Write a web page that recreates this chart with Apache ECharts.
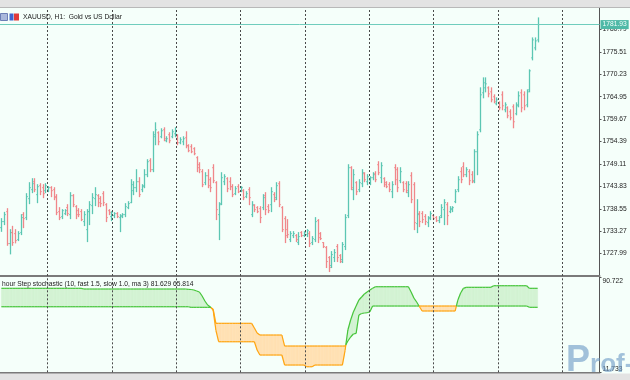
<!DOCTYPE html>
<html><head><meta charset="utf-8">
<script src="https://cdn.jsdelivr.net/npm/echarts@6/dist/echarts.min.js"></script>
<style>html,body{margin:0;padding:0;background:#f5fffa;}#c{width:630px;height:380px;}</style>
</head><body><div id="c"></div>
<script>
const opens = [1734.10,1735.52,1737.87,1730.34,1732.93,1732.69,1731.28,1732.93,1737.16,1736.46,1740.93,1743.04,1744.92,1741.87,1743.98,1743.51,1742.81,1743.04,1743.51,1743.04,1741.40,1737.87,1736.69,1737.40,1738.81,1737.16,1741.63,1739.04,1738.10,1737.87,1735.52,1733.63,1737.87,1739.28,1740.93,1741.63,1740.93,1742.10,1739.51,1738.10,1736.69,1736.93,1737.40,1736.46,1736.69,1737.16,1738.81,1739.98,1742.81,1743.51,1744.92,1743.04,1743.98,1746.57,1749.86,1747.75,1755.51,1756.45,1755.51,1757.15,1754.57,1755.98,1755.51,1756.21,1755.74,1754.10,1754.33,1755.27,1753.39,1753.16,1752.69,1750.57,1748.92,1747.28,1744.69,1746.33,1745.39,1748.22,1744.69,1737.16,1739.75,1744.92,1745.63,1744.92,1743.75,1742.10,1743.75,1742.81,1742.81,1741.40,1743.04,1737.16,1739.28,1738.81,1738.57,1738.81,1741.63,1739.04,1739.51,1741.87,1741.16,1744.45,1738.81,1736.22,1733.63,1731.28,1732.22,1732.22,1730.58,1732.93,1732.22,1732.46,1732.69,1730.58,1731.28,1735.75,1732.69,1730.58,1729.40,1727.05,1725.17,1727.05,1729.64,1727.52,1726.58,1729.64,1736.93,1748.22,1743.04,1744.69,1743.04,1744.45,1746.80,1744.92,1745.16,1745.86,1746.80,1748.92,1745.86,1745.63,1744.69,1744.22,1742.57,1748.22,1747.75,1745.16,1744.69,1744.45,1742.34,1746.33,1744.22,1735.05,1737.40,1737.40,1736.69,1735.28,1736.46,1736.93,1736.46,1735.75,1736.93,1738.34,1739.51,1737.87,1738.34,1740.22,1743.04,1747.28,1748.45,1746.57,1747.28,1746.57,1745.16,1751.98,1757.15,1765.86,1767.03,1767.03,1766.09,1764.92,1763.27,1763.50,1765.38,1761.86,1762.33,1761.39,1762.56,1760.92,1763.03,1765.86,1765.38,1763.03,1766.56,1774.09,1776.44,1778.32];
const highs = [1736.22,1737.70,1738.57,1733.63,1734.41,1733.63,1733.16,1737.16,1737.63,1742.10,1744.69,1745.63,1745.63,1744.22,1744.45,1744.22,1744.45,1743.75,1743.75,1743.51,1741.87,1738.81,1738.34,1738.34,1739.51,1742.34,1741.87,1739.28,1738.57,1738.34,1737.87,1738.34,1740.22,1742.10,1743.51,1741.87,1741.40,1742.57,1739.75,1738.34,1737.87,1737.63,1737.63,1737.16,1737.40,1739.75,1740.22,1745.39,1744.92,1747.75,1745.86,1744.22,1747.75,1750.10,1750.33,1756.68,1758.80,1756.68,1757.39,1757.62,1755.51,1756.45,1757.15,1757.62,1755.98,1755.27,1755.51,1756.68,1753.63,1753.63,1752.92,1750.80,1749.39,1747.75,1747.04,1747.75,1745.86,1748.92,1744.92,1739.98,1747.04,1746.57,1745.86,1745.86,1744.22,1743.75,1744.22,1743.75,1743.04,1742.57,1743.51,1740.22,1739.51,1739.04,1739.04,1741.87,1742.34,1739.51,1743.51,1742.34,1744.69,1744.92,1739.04,1736.69,1735.99,1733.16,1733.16,1732.46,1732.93,1733.16,1733.16,1733.63,1733.16,1731.99,1736.46,1735.99,1732.93,1730.58,1729.64,1727.28,1728.46,1728.93,1730.11,1727.75,1730.58,1737.16,1748.92,1748.45,1747.75,1744.92,1745.39,1747.75,1747.04,1746.57,1746.10,1747.04,1747.28,1749.63,1749.39,1745.86,1744.92,1744.69,1744.92,1748.92,1748.22,1748.22,1744.92,1744.92,1744.92,1747.04,1744.69,1740.69,1737.87,1737.87,1737.16,1736.69,1737.87,1737.16,1736.69,1736.69,1739.51,1740.69,1739.98,1739.04,1739.04,1743.04,1746.10,1748.22,1749.39,1748.22,1747.75,1747.28,1752.45,1756.68,1767.03,1769.38,1769.38,1767.27,1767.03,1765.38,1764.68,1763.74,1766.09,1763.50,1762.56,1761.86,1763.03,1763.50,1766.09,1766.56,1766.09,1766.56,1771.27,1778.79,1778.79,1783.50];
const lows = [1733.23,1734.81,1729.94,1727.92,1729.94,1730.51,1731.05,1732.46,1734.10,1735.99,1739.75,1742.34,1742.57,1739.98,1741.87,1741.16,1742.34,1742.57,1741.40,1740.69,1737.16,1735.99,1736.22,1737.16,1736.93,1736.22,1739.04,1736.22,1736.69,1735.75,1734.58,1730.81,1734.81,1737.40,1739.28,1739.04,1739.04,1739.28,1735.52,1737.16,1735.75,1736.46,1736.46,1733.16,1736.46,1736.69,1738.57,1739.98,1741.87,1742.57,1741.40,1742.57,1743.51,1746.10,1747.28,1747.28,1753.63,1753.63,1755.27,1754.57,1754.33,1754.10,1755.27,1755.51,1753.63,1753.86,1753.63,1752.92,1751.98,1751.75,1751.27,1747.28,1747.04,1743.75,1744.22,1743.51,1742.57,1744.69,1735.99,1731.28,1739.51,1744.22,1742.57,1743.04,1741.40,1741.87,1742.34,1742.57,1740.69,1741.16,1739.51,1736.69,1737.87,1737.63,1735.28,1738.34,1737.16,1737.63,1737.87,1740.22,1740.69,1739.04,1733.16,1730.58,1731.75,1730.81,1731.75,1730.81,1730.11,1731.99,1731.99,1731.99,1729.64,1730.11,1730.81,1730.58,1731.28,1729.40,1724.70,1723.76,1724.70,1726.11,1726.11,1725.87,1725.87,1728.93,1736.46,1743.04,1740.69,1741.87,1742.57,1743.75,1744.92,1744.22,1744.22,1745.39,1744.92,1746.57,1744.69,1743.75,1743.51,1742.57,1741.16,1744.22,1742.57,1744.69,1742.57,1742.34,1741.40,1739.98,1733.63,1732.93,1734.34,1735.28,1734.81,1734.34,1735.99,1735.99,1735.52,1735.28,1736.46,1734.81,1734.81,1737.63,1737.87,1739.98,1742.57,1744.69,1746.10,1746.10,1744.22,1744.69,1744.69,1746.57,1756.68,1764.68,1766.09,1764.92,1763.74,1763.50,1763.03,1761.86,1761.86,1761.39,1759.98,1759.51,1757.62,1760.68,1762.56,1761.39,1761.86,1762.56,1766.09,1773.62,1775.97,1777.85];
const closes = [1735.52,1737.16,1730.34,1732.93,1730.58,1731.05,1732.69,1736.46,1736.22,1741.40,1743.51,1744.45,1743.04,1743.75,1742.57,1742.10,1743.98,1743.51,1742.81,1741.16,1737.63,1736.46,1738.10,1738.10,1737.40,1741.63,1739.51,1737.16,1737.16,1735.99,1737.16,1737.87,1739.51,1741.16,1741.87,1739.98,1739.75,1739.98,1736.46,1737.63,1737.63,1737.40,1736.69,1736.93,1737.16,1739.04,1739.75,1744.22,1743.51,1744.92,1741.87,1743.75,1746.57,1749.63,1747.75,1755.98,1757.15,1754.33,1756.92,1755.04,1755.04,1754.57,1756.68,1756.92,1754.10,1754.80,1755.04,1753.39,1752.22,1751.98,1751.51,1748.22,1747.75,1744.22,1746.33,1743.98,1743.51,1745.16,1738.34,1739.51,1745.86,1746.10,1743.28,1743.75,1741.87,1743.28,1742.57,1743.51,1741.16,1742.10,1741.16,1739.51,1738.34,1737.87,1736.46,1741.16,1738.34,1738.10,1742.57,1740.69,1743.98,1739.51,1733.63,1732.22,1732.46,1732.69,1732.69,1731.28,1731.99,1732.22,1732.93,1733.40,1730.34,1731.52,1735.52,1731.75,1731.52,1729.64,1726.11,1724.70,1727.75,1728.22,1727.05,1726.11,1730.11,1736.46,1748.22,1743.51,1746.57,1742.57,1744.69,1747.04,1745.39,1746.10,1745.86,1746.57,1745.39,1747.04,1748.69,1744.22,1743.75,1743.04,1744.22,1745.39,1743.51,1747.28,1743.04,1742.81,1744.22,1740.69,1735.28,1737.16,1735.52,1735.99,1735.52,1736.22,1737.40,1736.22,1735.75,1736.46,1738.81,1739.98,1736.93,1738.57,1738.81,1742.57,1745.39,1745.39,1746.57,1747.75,1745.16,1744.92,1751.98,1755.98,1765.38,1768.21,1767.97,1765.62,1764.21,1763.74,1764.21,1762.33,1762.80,1763.03,1760.45,1759.98,1759.04,1762.80,1765.15,1762.33,1762.80,1766.09,1771.03,1778.32,1778.09,1781.93];
const stochMain = [81.63,81.63,81.63,81.63,81.63,81.63,81.63,81.63,81.63,81.63,81.63,81.63,81.63,81.63,81.63,81.63,81.63,81.63,81.63,81.63,81.63,81.63,81.63,81.63,81.63,81.63,81.63,81.63,81.63,81.63,
81.05,81.05,81.05,81.05,81.05,81.05,81.05,81.05,81.05,81.05,81.05,81.05,81.05,81.05,81.05,81.05,81.05,81.05,81.05,81.05,81.05,81.05,81.05,81.05,81.05,81.05,81.05,81.05,81.05,81.05,81.05,81.05,81.05,81.05,81.05,81.05,81.05,81.05,
80.80,80.63,80.21,79.38,78.55,75.22,71.06,67.73,66.06,63.57,46.92,
37.18,37.18,37.18,37.18,37.18,37.18,37.18,37.18,37.18,37.18,37.18,37.18,37.18,37.18,
30.27,26.11,26.11,26.11,26.11,26.11,26.11,26.11,26.11,26.11,
17.79,17.79,17.79,17.79,17.79,17.79,17.79,17.79,16.37,16.37,16.37,
17.79,17.79,17.79,17.79,17.79,17.79,17.79,17.79,17.79,17.79,17.79,
30.27,46.92,55.24,61.90,66.90,71.89,74.39,76.89,78.55,80.21,81.63,
82.96,82.96,82.96,82.96,82.96,82.96,82.96,82.96,82.96,82.96,82.96,82.96,82.96,
78.55,73.56,70.23,66.48,
62.76,62.76,62.76,62.76,62.76,62.76,62.76,62.76,62.76,62.76,62.76,62.76,62.76,
71.89,77.72,81.63,
82.46,82.46,82.46,82.46,82.46,82.46,82.46,82.46,82.46,82.46,
83.79,83.79,83.79,83.79,83.79,83.79,83.79,83.79,83.79,83.79,83.79,83.79,83.79,
81.629,81.629,81.629,81.629];
const stochSignal = [66.31,66.31,66.31,66.31,66.31,66.31,66.31,66.31,66.31,66.31,66.31,66.31,66.31,66.31,66.31,66.31,66.31,66.31,66.31,66.31,66.31,66.31,66.31,66.31,66.31,66.31,66.31,66.31,66.31,66.31,66.31,66.31,66.31,66.31,66.31,66.31,66.31,66.31,66.31,66.31,66.31,66.31,66.31,66.31,66.31,66.31,66.31,66.31,66.31,66.31,66.31,66.31,66.31,66.31,66.31,66.31,66.31,66.31,66.31,66.31,66.31,66.31,66.31,66.31,66.31,66.31,66.31,66.31,66.31,
65.81,65.81,65.81,65.81,65.81,65.81,65.81,65.81,64.41,
52.49,52.49,52.49,52.49,52.49,52.49,52.49,52.49,52.49,52.49,52.49,52.49,52.49,52.49,
48.58,44.42,42.76,42.76,42.76,42.76,42.76,42.76,42.76,42.76,42.76,
33.60,33.60,33.60,33.60,33.60,33.60,33.60,33.60,33.60,33.60,33.60,33.60,33.60,33.60,33.60,33.60,33.60,33.60,33.60,33.60,33.60,33.60,33.60,
37.76,41.09,43.59,44.17,59.41,60.65,61.07,61.32,62.15,
66.90,66.90,66.90,66.90,66.90,66.90,66.90,66.90,66.90,66.90,66.90,66.90,66.90,66.90,66.90,66.90,66.90,66.90,66.90,66.90,66.90,66.90,66.90,66.90,66.90,66.90,66.90,66.90,66.90,66.90,66.90,66.90,66.90,66.90,66.90,66.90,66.90,66.90,66.90,66.90,66.90,66.90,66.90,66.90,66.90,66.90,66.90,66.90,66.90,66.90,66.90,66.90,66.90,66.90,66.90,66.90,66.90,
65.814,65.814,65.814,65.814];
const separatorBars = [16.85,40.23,63.61,86.99,110.37,133.75,157.14,180.52,203.9];
const priceAxis = {min:1722.71, max:1786.07, step:5.28};
const stochAxis = {min:11.733, max:90.722};
const symbolTitle = 'XAUUSD, H1:  Gold vs US Dollar';
const indicatorName = 'hour Step stochastic (10, fast 1.5, slow 1.0, ma 3)';

const chart = echarts.init(document.getElementById('c'), null, {renderer:'canvas', width:630, height:380});
const N = opens.length;
const FONT = '"Liberation Sans", Arial, sans-serif';
const UP = '#5cc6b3', DOWN = '#f0878a';
const X_MIN = -0.5, X_MAX = 217.5;
const candleData = opens.map((o,i)=>[i,o,closes[i],lows[i],highs[i]]);
const segData = [];
for (let i=0;i<N-1;i++) segData.push([i, stochMain[i], stochSignal[i], stochMain[i+1], stochSignal[i+1]]);

function renderBar(params, api){
  const x = api.value(0);
  const o = api.coord([x, api.value(1)]), c = api.coord([x, api.value(2)]);
  const l = api.coord([x, api.value(3)]), h = api.coord([x, api.value(4)]);
  const color = api.value(2) >= api.value(1) ? UP : DOWN;
  const px = Math.round(h[0]) + 0.5;
  const st = {stroke: color, lineWidth: 1.3};
  return {type:'group', children:[
    {type:'line', shape:{x1:px, y1:h[1]-0.5, x2:px, y2:l[1]+0.5}, style:st},
    {type:'line', shape:{x1:px-1.3, y1:o[1], x2:px, y2:o[1]}, style:{stroke:color, lineWidth:1}},
    {type:'line', shape:{x1:px, y1:c[1], x2:px+1.3, y2:c[1]}, style:{stroke:color, lineWidth:1}}
  ]};
}
const G_FILL='#d3f3d3', O_FILL='#ffe1b3', G_LINE='#46c53a', O_LINE='#ffa512';
function stochRender(mode){
  return function(params, api){
    const i = api.value(0);
    const a0=api.value(1), b0=api.value(2), a1=api.value(3), b1=api.value(4);
    const A0=api.coord([i,a0]), B0=api.coord([i,b0]), A1=api.coord([i+1,a1]), B1=api.coord([i+1,b1]);
    const d0=a0-b0, d1=a1-b1;
    const children=[];
    function piece(pa0,pb0,pa1,pb1,up){
      if(mode==='fill'){
        const f = up?G_FILL:O_FILL;
        children.push({type:'polygon', shape:{points:[pa0,pa1,pb1,pb0]}, style:{fill:f, stroke:f, lineWidth:0.6}});
      } else {
        const s = up?G_LINE:O_LINE;
        children.push({type:'polyline', shape:{points:[pa0,pa1]}, style:{stroke:s, lineWidth:1.2, fill:null}});
        children.push({type:'polyline', shape:{points:[pb0,pb1]}, style:{stroke:s, lineWidth:1.2, fill:null}});
      }
    }
    if (d0*d1 < 0){
      const t = d0/(d0-d1);
      const P = [A0[0]+(A1[0]-A0[0])*t, A0[1]+(A1[1]-A0[1])*t];
      piece(A0,B0,P,P,d0>0);
      piece(P,P,A1,B1,d1>0);
    } else piece(A0,B0,A1,B1,(d0+d1)>=0);
    return {type:'group', children};
  };
}
const sepLines = separatorBars.map(v=>({xAxis:v}));
const sepStyle = {type:[2,2], color:'#4a4a4a', width:1};
const lastClose = closes[N-1];

chart.setOption({
  animation:false,
  backgroundColor:'#f5fffa',
  title:{text:symbolTitle, left:23, top:13.5, padding:0, textStyle:{fontSize:6.7, fontWeight:'normal', fontFamily:FONT, color:'#1a1a1a'}},
  grid:[
    {left:0, top:7, width:599.5, height:269},
    {left:0, top:277.4, width:599.5, height:94.9}
  ],
  xAxis:[
    {gridIndex:0, type:'value', min:X_MIN, max:X_MAX, axisLabel:{show:false}, axisTick:{show:false}, splitLine:{show:false}, axisLine:{show:true, onZero:false, lineStyle:{color:'#7a7a7a', width:2}}},
    {gridIndex:1, type:'value', min:X_MIN, max:X_MAX, axisLabel:{show:false}, axisTick:{show:false}, splitLine:{show:false}, axisLine:{show:true, onZero:false, lineStyle:{color:'#7a7a7a', width:2}}}
  ],
  yAxis:[
    {gridIndex:0, type:'value', position:'right', min:priceAxis.min, max:priceAxis.max, interval:priceAxis.step,
     axisLine:{show:true, onZero:false, lineStyle:{color:'#555', width:1}}, axisTick:{show:true, length:2, lineStyle:{color:'#555'}},
     splitLine:{show:false},
     axisLabel:{fontSize:6.7, fontFamily:FONT, color:'#222', margin:3, showMinLabel:false, showMaxLabel:false, formatter:v=>v.toFixed(2)}},
    {gridIndex:1, type:'value', position:'right', min:stochAxis.min, max:stochAxis.max, interval:stochAxis.max-stochAxis.min,
     axisLine:{show:true, onZero:false, lineStyle:{color:'#555', width:1}}, axisTick:{show:true, length:2, lineStyle:{color:'#555'}},
     splitLine:{show:false},
     axisLabel:{fontSize:6.7, fontFamily:FONT, color:'#222', margin:3, verticalAlignMaxLabel:'top', verticalAlignMinLabel:'bottom', formatter:v=>v.toFixed(3)}}
  ],
  series:[
    {type:'custom', xAxisIndex:0, yAxisIndex:0, data:candleData, renderItem:renderBar, encode:{x:0, y:[1,2,3,4]}, z:3,
     markLine:{silent:true, symbol:['none','none'], animation:false,
       data:[...sepLines.map(d=>({...d, lineStyle:sepStyle, label:{show:false}})),
             {yAxis:lastClose, lineStyle:{type:'solid', color:'#6fcdbd', width:1},
              label:{show:true, position:'end', distance:1, formatter:p=>p.value.toFixed(2), backgroundColor:'#4fb9a7', color:'#f4fffb', fontSize:6.7, fontFamily:FONT, padding:[1,2,1,2]}}]}},
    {type:'custom', xAxisIndex:1, yAxisIndex:1, data:segData, renderItem:stochRender('fill'), encode:{x:0, y:[1,2]}, z:2,
     markLine:{silent:true, symbol:['none','none'], animation:false, label:{show:false}, lineStyle:sepStyle, data:sepLines}},
    {type:'custom', xAxisIndex:1, yAxisIndex:1, data:segData, renderItem:stochRender('line'), encode:{x:0, y:[1,2]}, z:3}
  ],
  graphic:[
    {type:'rect', shape:{x:0,y:0,width:630,height:7}, style:{fill:'#e3e3e3'}, z:10},
    {type:'line', shape:{x1:0,y1:7.5,x2:630,y2:7.5}, style:{stroke:'#b8b8b8', lineWidth:1}, z:10},
    {type:'rect', shape:{x:0,y:373.5,width:630,height:7}, style:{fill:'#e3e3e3'}, z:10},
    {type:'rect', shape:{x:0.5,y:13.5,width:7,height:7}, style:{fill:'#a9b8dc', stroke:'#6c7fb6', lineWidth:1}, z:10},
    {type:'rect', shape:{x:9.5,y:13.5,width:4,height:7}, style:{fill:'#3f64cf'}, z:10},
    {type:'rect', shape:{x:14,y:13.5,width:5,height:7}, style:{fill:'#e03a3a'}, z:10},
    {type:'text', left:2, top:280.5, z:10, style:{text:indicatorName+' '+stochMain[N-1].toFixed(3)+' '+stochSignal[N-1].toFixed(3), font:'6.7px '+FONT, fill:'#1a1a1a'}},
    {type:'text', x:566, y:343, z:11, style:{text:'{p|P}{r|rof-F}', rich:{p:{fontSize:36, fontWeight:'bold', fontFamily:FONT, fill:'rgba(110,155,198,0.62)'}, r:{fontSize:26, fontWeight:'bold', fontFamily:FONT, fill:'rgba(110,155,198,0.62)', padding:[8,0,0,0]}}}}
  ]
});
</script></body></html>
